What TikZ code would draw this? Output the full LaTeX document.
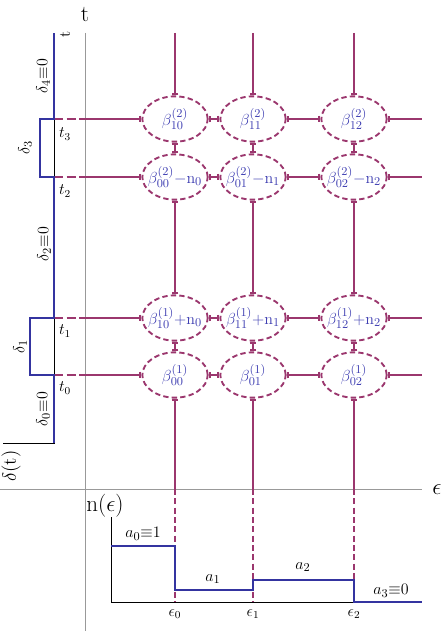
\documentclass[tikz,border=0pt]{standalone}
\usetikzlibrary{shapes.geometric,arrows.meta}

\definecolor{lattice}{RGB}{155,55,110}
\definecolor{bluetext}{RGB}{62,62,178}
\definecolor{blueline}{RGB}{52,52,160}

\newcommand{\celltext}[1]{\makebox[30pt]{$#1$}}

\tikzset{
  cell/.style={ellipse, draw=lattice, fill=white, line width=1.4pt,
    dash pattern=on 4pt off 2.4pt, minimum width=49pt, minimum height=34pt,
    inner sep=0pt, text=bluetext, font=\fontsize{13}{15}\selectfont},
  link/.style={draw=lattice, line width=1.7pt},
  cutlink/.style={draw=lattice, line width=1.3pt, dash pattern=on 4.5pt off 2.5pt},
  axisln/.style={draw=black!40, line width=0.7pt},
  pulse/.style={draw=blueline, line width=1.5pt},
  biglbl/.style={font=\fontsize{17}{19}\selectfont},
  midlbl/.style={font=\fontsize{13}{15}\selectfont},
  smalllbl/.style={font=\fontsize{12}{14}\selectfont}
}

\begin{document}
\begin{tikzpicture}[x=0.75pt, y=-0.75pt, >={Bar[width=5pt]}]
    \useasboundingbox (0,0) rectangle (441,631);

    % axes of the lattice
    \draw[axisln] (85,33) -- (85,631);
    \draw[axisln] (0,489) -- (422,489);
    \node[biglbl] (tlab) at (85,14) {$\mathrm{t}$};
    \node[biglbl] (elab) at (437,490) {$\epsilon$};

    % cells
    \foreach \c/\x in {0/175,1/253,2/354} {
        \node[cell] (b0\c) at (\x,375) {\celltext{\beta^{(1)}_{0\c}}};
        \node[cell] (b1\c) at (\x,318) {\celltext{\beta^{(1)}_{1\c}{+}\mathrm{n}_\c}};
        \node[cell] (b2\c) at (\x,177) {\celltext{\beta^{(2)}_{0\c}{-}\mathrm{n}_\c}};
        \node[cell] (b3\c) at (\x,119) {\celltext{\beta^{(2)}_{1\c}}};
        \coordinate (top\c) at (\x,33);
        \coordinate (cut\c) at (\x,489);
        \coordinate (eps\c) at (\x,602);
    }

    % vertical links
    \foreach \c in {0,1,2} {
        \draw[link,->] (top\c) -- (b3\c);
        \draw[link,<->] (b3\c) -- (b2\c);
        \draw[link,<->] (b2\c) -- (b1\c);
        \draw[link,<->] (b1\c) -- (b0\c);
        \draw[link,<-] (b0\c) -- (cut\c);
        \draw[cutlink] (cut\c) -- (eps\c);
    }

    % horizontal links
    \foreach \r/\y in {0/375,1/318,2/177,3/119} {
        \coordinate (d\r) at (54,\y);
        \coordinate (g\r) at (85,\y);
        \coordinate (e\r) at (422,\y);
        \draw[link, dash pattern=on 7pt off 2.5pt] (d\r) -- (g\r);
        \draw[link,->] (g\r) -- (b\r0);
        \draw[link,<->] (b\r0) -- (b\r1);
        \draw[link,<->] (b\r1) -- (b\r2);
        \draw[link,<-] (b\r2) -- (e\r);
    }

    % delta(t), turned on its side
    \draw[line width=0.6pt] (3,443) -- (54,443) -- (54,33);
    \draw[pulse] (54,443) -- (54,375) -- (30,375) -- (30,318) -- (54,318)
        -- (54,177) -- (40,177) -- (40,119) -- (54,119) -- (54,33);
    \node[midlbl, rotate=90] (del4) at (43,76) {$\delta_4{\equiv}0$};
    \node[midlbl, rotate=90] (del3) at (25,148) {$\delta_3$};
    \node[midlbl, rotate=90] (del2) at (44,244) {$\delta_2{\equiv}0$};
    \node[midlbl, rotate=90] (del1) at (20,347) {$\delta_1$};
    \node[midlbl, rotate=90] (del0) at (43,409) {$\delta_0{\equiv}0$};
    \node[font=\fontsize{15}{17}\selectfont, rotate=90, inner sep=0pt] (dlab) at (11,466) {$\delta(\mathrm{t})$};
    \node[midlbl, rotate=90] (tside) at (65,34) {$\mathrm{t}$};
    \node[smalllbl] (t3) at (65,134) {$t_3$};
    \node[smalllbl] (t2) at (65,191) {$t_2$};
    \node[smalllbl] (t1) at (65,331) {$t_1$};
    \node[smalllbl] (t0) at (65,388) {$t_0$};

    % n(epsilon)
    \draw[line width=0.6pt] (111,517) -- (111,602) -- (422,602);
    \draw[pulse] (111,546) -- (175,546) -- (175,590) -- (253,590) -- (253,580)
        -- (354,580) -- (354,602) -- (422,602);
    \node[biglbl] (nlab) at (105,506) {$\mathrm{n}(\epsilon)$};
    \node[midlbl] (a0) at (143,534) {$a_0{\equiv}1$};
    \node[midlbl] (a1) at (213,579) {$a_1$};
    \node[midlbl] (a2) at (303,567) {$a_2$};
    \node[midlbl] (a3) at (391,591) {$a_3{\equiv}0$};
    \node[smalllbl] (e0) at (175,614) {$\epsilon_0$};
    \node[smalllbl] (e1) at (253,614) {$\epsilon_1$};
    \node[smalllbl] (e2) at (354,614) {$\epsilon_2$};
\end{tikzpicture}
\end{document}
